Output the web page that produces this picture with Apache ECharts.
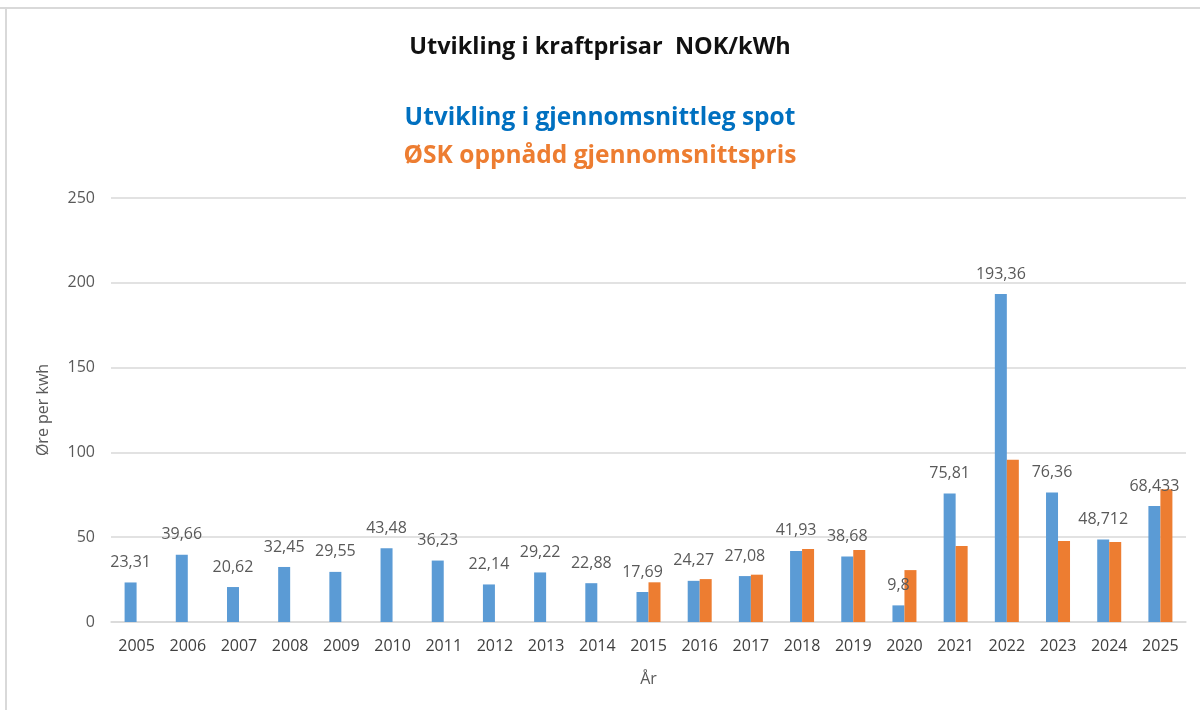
<!DOCTYPE html>
<html>
<head>
<meta charset="utf-8">
<script src="https://cdn.jsdelivr.net/npm/echarts@6/dist/echarts.min.js"></script>
<style>
  html, body { margin: 0; padding: 0; background: #fff; }
  #chart { width: 1200px; height: 710px; }
</style>
</head>
<body>
<div id="chart"></div>
<script>
const years = ["2005", "2006", "2007", "2008", "2009", "2010", "2011", "2012", "2013", "2014",
  "2015", "2016", "2017", "2018", "2019", "2020", "2021", "2022", "2023", "2024", "2025"];
// gjennomsnittleg spot (øre/kWh)
const spot = [23.31, 39.66, 20.62, 32.45, 29.55, 43.48, 36.23, 22.14, 29.22, 22.88,
  17.69, 24.27, 27.08, 41.93, 38.68, 9.8, 75.81, 193.36, 76.36, 48.712, 68.433];
// ØSK oppnådd gjennomsnittspris, berre frå 2015
const osk = [null, null, null, null, null, null, null, null, null, null,
  23.4, 25.3, 27.9, 43.0, 42.4, 30.6, 44.8, 95.7, 47.8, 47.2, 78.2];
const yTicks = [0, 50, 100, 150, 200, 250];

const font = "'Open Sans', 'Noto Sans', sans-serif";
const el = document.getElementById("chart");
const chart = echarts.init(el, null, { renderer: "canvas" });

chart.setOption({
  backgroundColor: "#fff",
  animation: false,
  textStyle: { fontFamily: font },
  title: [
    {
      text: "Utvikling i kraftprisar  NOK/kWh",
      left: "center", top: 30,
      textStyle: { fontSize: 23.5, fontWeight: "bold", color: "#111", fontFamily: font }
    },
    {
      text: "Utvikling i gjennomsnittleg spot",
      left: "center", top: 101,
      textStyle: { fontSize: 24.5, fontWeight: 700, color: "#0070C0", fontFamily: font }
    },
    {
      text: "ØSK oppnådd gjennomsnittspris",
      left: "center", top: 139,
      textStyle: { fontSize: 24.5, fontWeight: 700, color: "#ED7D31", fontFamily: font }
    }
  ],
  graphic: [
    { type: "line", shape: { x1: 0, y1: 8, x2: 1200, y2: 8 }, style: { stroke: "#d9d9d9", lineWidth: 2 } },
    { type: "line", shape: { x1: 6, y1: 8, x2: 6, y2: 710 }, style: { stroke: "#d9d9d9", lineWidth: 2 } }
  ],
  grid: { left: 111, right: 14, top: 198, bottom: 88, containLabel: false },
  xAxis: {
    type: "category",
    data: years,
    name: "År",
    nameLocation: "middle",
    nameGap: 49,
    nameTextStyle: { fontSize: 16, color: "#595959" },
    axisTick: { show: false },
    axisLine: { lineStyle: { color: "#d9d9d9", width: 1.5 } },
    axisLabel: { fontSize: 16, color: "#404040", margin: 16, interval: 0 }
  },
  yAxis: {
    type: "value",
    min: yTicks[0],
    max: yTicks[yTicks.length - 1],
    interval: 50,
    name: "Øre per kwh",
    nameLocation: "middle",
    nameGap: 60,
    nameRotate: 90,
    nameTextStyle: { fontSize: 16, color: "#595959" },
    axisLine: { show: false },
    axisTick: { show: false },
    axisLabel: { fontSize: 16, color: "#595959", margin: 16 },
    splitLine: { lineStyle: { color: "#d9d9d9", width: 1.5 } }
  },
  series: [
    {
      name: "Utvikling i gjennomsnittleg spot",
      type: "bar",
      data: spot,
      barWidth: 12,
      barGap: "0%",
      itemStyle: { color: "#5B9BD5" },
      label: {
        show: true,
        position: "top",
        distance: 12,
        fontSize: 16,
        color: "#595959",
        formatter: (p) => String(p.value).replace(".", ",")
      }
    },
    {
      name: "ØSK oppnådd gjennomsnittspris",
      type: "bar",
      data: osk,
      barWidth: 12,
      barGap: "0%",
      itemStyle: { color: "#ED7D31" }
    }
  ]
});
window.addEventListener("resize", () => chart.resize());
</script>
</body>
</html>
